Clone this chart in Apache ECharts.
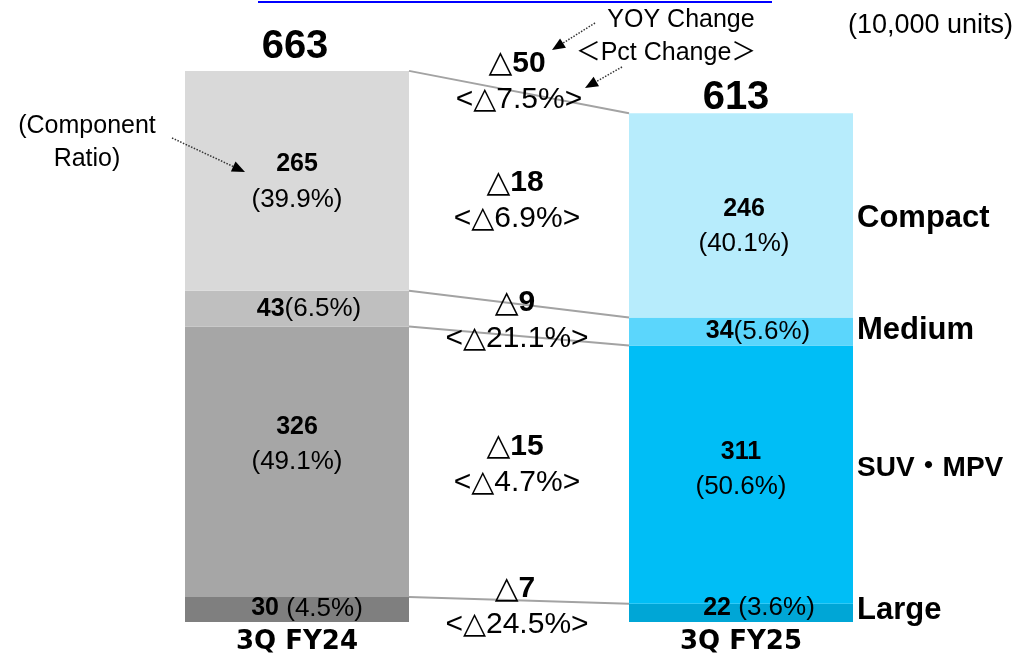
<!DOCTYPE html>
<html>
<head>
<meta charset="utf-8">
<script src="https://cdn.jsdelivr.net/npm/echarts@6/dist/echarts.min.js"></script>
<style>
  html, body { margin: 0; padding: 0; background: #fff; }
  #chart { width: 1018px; height: 657px; }
</style>
</head>
<body>
<div id="chart"></div>
<script>
// Sales volume by segment, 3Q FY24 vs 3Q FY25 (10,000 units)
const categories = ['3Q FY24', '3Q FY25'];
const segmentNames = ['Large', 'SUV・MPV', 'Medium', 'Compact']; // stacked bottom to top
const large = [30, 22];
const suvMpv = [326, 311];
const medium = [43, 34];
const compact = [265, 246];
const largeRatio = [4.5, 3.6];
const suvMpvRatio = [49.1, 50.6];
const mediumRatio = [6.5, 5.6];
const compactRatio = [39.9, 40.1];
const totals = [663, 613];
// year-on-year decrease per segment (bottom to top) and for the total
const yoyUnits = [7, 15, 9, 18];
const yoyPct = [24.5, 4.7, 21.1, 6.9];
const totalYoyUnits = 50;
const totalYoyPct = 7.5;

const SANS = "'Liberation Sans', Arial, 'Noto Sans CJK JP', sans-serif";
const SANS_TRI = "'Liberation Sans', Arial, 'DejaVu Sans', 'Noto Sans CJK JP', sans-serif";
const BAR_W = 224;
const greys = ['#7f7f7f', '#a6a6a6', '#bfbfbf', '#d9d9d9'];
const blues = ['#00a6d6', '#00bef6', '#5bd6fc', '#b7ecfc'];

const values = [large, suvMpv, medium, compact];
const ratios = [largeRatio, suvMpvRatio, mediumRatio, compactRatio];
// label placement per segment: inline or two lines, with pixel nudges per bar
const labelStyle = [
  { inline: true, gap: ' ', offsets: [[10, -1], [18, -5]] },
  { inline: false, offsets: [[0, -17], [0, -5]] },
  { inline: true, gap: '', offsets: [[12, 0], [17, 0]] },
  { inline: false, offsets: [[0, 1], [3, 11]] }
];
const changeNudge = [-4, -4, 1, 3];
const nameNudge = [-2, -6, -1, 3];

const labelRich = {
  b: { fontFamily: SANS, fontWeight: 'bold', fontSize: 25, color: '#000', lineHeight: 35 },
  n: { fontFamily: SANS, fontSize: 26, color: '#000', lineHeight: 35 }
};

const barSeries = values.map((vals, k) => ({
  name: segmentNames[k],
  type: 'bar',
  stack: 'units',
  barWidth: BAR_W,
  silent: true,
  data: vals.map((v, i) => ({
    value: v,
    itemStyle: { color: i === 0 ? greys[k] : blues[k] },
    label: {
      show: true,
      position: 'inside',
      offset: labelStyle[k].offsets[i],
      rich: labelRich,
      formatter: () => {
        const r = '(' + ratios[k][i].toFixed(1) + '%)';
        return labelStyle[k].inline
          ? '{b|' + v + '}{n|' + labelStyle[k].gap + r + '}'
          : '{b|' + v + '}\n{n|' + r + '}';
      }
    }
  }))
}));

// cumulative tops and midpoints of each segment on both bars
const connectorData = values.map((vals, k) => {
  const below = values.slice(0, k);
  const baseL = below.reduce((s, a) => s + a[0], 0);
  const baseR = below.reduce((s, a) => s + a[1], 0);
  return [0, baseL + vals[0], baseR + vals[1], baseL + vals[0] / 2, baseR + vals[1] / 2, k];
});

function changeBlock(x, y, units, pct) {
  return [
    {
      type: 'text', x: x - 2, y: y - 18,
      style: {
        text: '{t|△}{v|' + units + '}',
        align: 'center', verticalAlign: 'middle',
        rich: {
          t: { fontFamily: SANS_TRI, fontSize: 31, fill: '#000' },
          v: { fontFamily: SANS, fontSize: 30, fontWeight: 'bold', fill: '#000' }
        }
      }
    },
    {
      type: 'text', x: x, y: y + 18,
      style: {
        text: '<△' + pct.toFixed(1) + '%>',
        align: 'center', verticalAlign: 'middle',
        fontFamily: SANS_TRI, fontSize: 30, fill: '#000'
      }
    }
  ];
}

const connectorSeries = {
  type: 'custom',
  silent: true,
  z: 5,
  data: connectorData,
  renderItem: (params, api) => {
    const k = api.value(5);
    const pL = api.coord([0, api.value(1)]);
    const pR = api.coord([1, api.value(2)]);
    const mL = api.coord([0, api.value(3)]);
    const mR = api.coord([1, api.value(4)]);
    const xL = pL[0] + BAR_W / 2;
    const xR = pR[0] - BAR_W / 2;
    const midX = (xL + xR) / 2 - 2;
    const midY = (mL[1] + mR[1]) / 2 + changeNudge[k];
    return {
      type: 'group',
      children: [
        { type: 'line', shape: { x1: xL, y1: pL[1], x2: xR, y2: pR[1] },
          style: { stroke: '#a3a3a3', lineWidth: 2 } },
        ...changeBlock(midX, midY, yoyUnits[k], yoyPct[k]),
        { type: 'text', x: pR[0] + BAR_W / 2 + 4, y: mR[1] + nameNudge[k],
          style: { text: segmentNames[k], align: 'left', verticalAlign: 'middle',
                   fontFamily: SANS, fontWeight: 'bold', fontSize: k === 1 ? 28 : 31, fill: '#000' } }
      ]
    };
  }
};

const totalNudge = [[-2, -25], [-5, -15]];
const totalSeries = {
  type: 'custom',
  silent: true,
  z: 5,
  data: [[0, totals[0], totals[1]]],
  renderItem: (params, api) => {
    const pL = api.coord([0, api.value(1)]);
    const pR = api.coord([1, api.value(2)]);
    const xL = pL[0] + BAR_W / 2;
    const xR = pR[0] - BAR_W / 2;
    const totalStyle = { align: 'center', verticalAlign: 'middle',
                         fontFamily: SANS, fontWeight: 'bold', fontSize: 40, fill: '#000' };
    return {
      type: 'group',
      children: [
        { type: 'text', x: pL[0] + totalNudge[0][0], y: pL[1] + totalNudge[0][1],
          style: Object.assign({ text: String(api.value(1)) }, totalStyle) },
        { type: 'text', x: pR[0] + totalNudge[1][0], y: pR[1] + totalNudge[1][1],
          style: Object.assign({ text: String(api.value(2)) }, totalStyle) },
        ...changeBlock((xL + xR) / 2, (pL[1] + pR[1]) / 2 - 11, totalYoyUnits, totalYoyPct)
      ]
    };
  }
};

// dotted pointer with a solid head
function pointer(x1, y1, x2, y2) {
  const ang = Math.atan2(y2 - y1, x2 - x1);
  const len = 13, hw = 5.5;
  const bx = x2 - len * Math.cos(ang), by = y2 - len * Math.sin(ang);
  const nx = -Math.sin(ang) * hw, ny = Math.cos(ang) * hw;
  return [
    { type: 'line', z: 100, shape: { x1, y1, x2: bx, y2: by },
      style: { stroke: '#333', lineWidth: 1.5, lineDash: [1.5, 1.5] } },
    { type: 'polygon', z: 100, shape: { points: [[x2, y2], [bx + nx, by + ny], [bx - nx, by - ny]] },
      style: { fill: '#000' } }
  ];
}

const chart = echarts.init(document.getElementById('chart'), null, { renderer: 'canvas' });
chart.setOption({
  animation: false,
  backgroundColor: '#fff',
  grid: { left: 75, right: 55, top: 41, bottom: 35 },
  xAxis: {
    type: 'category',
    data: categories,
    axisLine: { show: false },
    axisTick: { show: false },
    axisLabel: { margin: 7, fontFamily: "'DejaVu Sans', sans-serif", fontWeight: 'bold',
                 fontSize: 26, color: '#000' }
  },
  yAxis: { type: 'value', min: 0, max: 700, show: false, splitLine: { show: false } },
  series: [...barSeries, connectorSeries, totalSeries],
  graphic: [
    { type: 'line', z: 100, shape: { x1: 258, y1: 2, x2: 772, y2: 2 }, style: { stroke: '#0000ff', lineWidth: 2 } },
    { type: 'text', z: 100, x: 1013, y: 26, style: { text: '(10,000 units)', align: 'right', verticalAlign: 'middle',
      fontFamily: SANS, fontSize: 27, fill: '#000' } },
    { type: 'text', z: 100, x: 681, y: 20, style: { text: 'YOY Change', align: 'center', verticalAlign: 'middle',
      fontFamily: SANS, fontSize: 25, fill: '#000' } },
    { type: 'text', z: 100, x: 666, y: 53, style: { text: '＜Pct Change＞', align: 'center', verticalAlign: 'middle',
      fontFamily: SANS, fontSize: 25, fill: '#000' } },
    { type: 'text', z: 100, x: 87, y: 143, style: { text: '(Component\nRatio)', align: 'center', verticalAlign: 'middle',
      fontFamily: SANS, fontSize: 25, lineHeight: 33, fill: '#000' } },
    ...pointer(595, 23, 552, 50),
    ...pointer(622, 67, 585, 88),
    ...pointer(172, 138, 245, 172)
  ]
});
</script>
</body>
</html>
